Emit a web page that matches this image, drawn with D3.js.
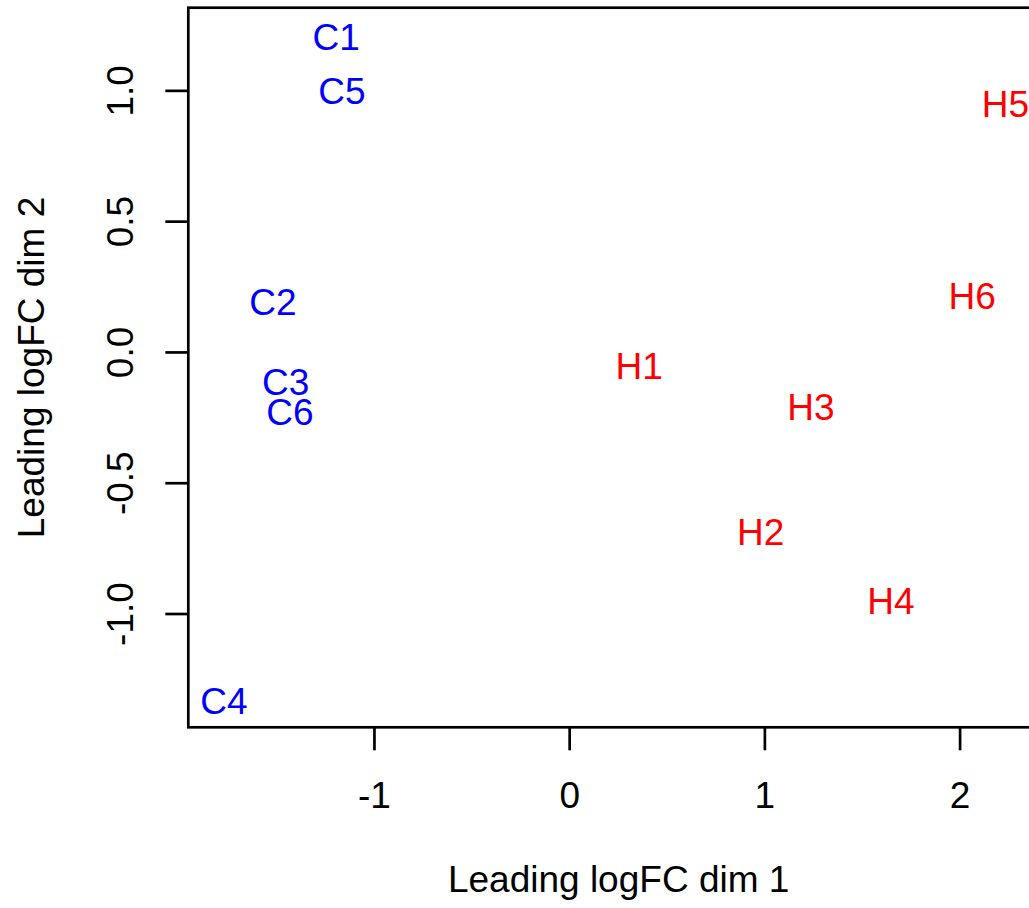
<!DOCTYPE html>
<html>
<head>
<meta charset="utf-8">
<script src="https://cdn.jsdelivr.net/npm/d3@7"></script>
<style>
  html, body { margin: 0; padding: 0; background: #ffffff; }
  svg { display: block; }
  text { font-family: "Liberation Sans", Arial, Helvetica, sans-serif; }
</style>
</head>
<body>
<svg id="chart" width="1029" height="908"></svg>
<script>
// MDS sample labels and their coordinates
const samples = ["C1", "C2", "C3", "C4", "C5", "C6", "H1", "H2", "H3", "H4", "H5", "H6"];
const dim1 = [-1.193, -1.518, -1.452, -1.768, -1.164, -1.430, 0.359, 0.981, 1.238, 1.648, 2.235, 2.065];
const dim2 = [1.206, 0.193, -0.115, -1.334, 1.000, -0.227, -0.052, -0.686, -0.211, -0.953, 0.949, 0.216];
const groupColor = ["blue", "blue", "blue", "blue", "blue", "blue", "red", "red", "red", "red", "red", "red"];

const xTicks = [-1, 0, 1, 2];
const yTicks = [-1.0, -0.5, 0.0, 0.5, 1.0];
const xLabel = "Leading logFC dim 1";
const yLabel = "Leading logFC dim 2";

const svg = d3.select("#chart");
const fontSize = 37;
const lw = 2.7;

const plot = { left: 188.3, top: 7.7, right: 1057, bottom: 727.3 };

const x = d3.scaleLinear().domain([-1.951, 2.499]).range([plot.left, plot.right]);
const y = d3.scaleLinear().domain([-1.435, 1.316]).range([plot.bottom, plot.top]);

// bottom axis
const gx = svg.append("g")
  .attr("transform", `translate(0,${plot.bottom})`)
  .call(d3.axisBottom(x).tickValues(xTicks).tickSize(23).tickFormat(d => String(d)));
gx.select(".domain").remove();
gx.selectAll(".tick line").attr("stroke", "#000").attr("stroke-width", lw);
gx.selectAll(".tick text")
  .attr("y", 80.7).attr("dy", 0)
  .attr("fill", "#000")
  .style("font-size", fontSize + "px")
  .style("font-family", "'Liberation Sans', Arial, Helvetica, sans-serif");

// left axis with rotated labels
const gy = svg.append("g")
  .attr("transform", `translate(${plot.left},0)`)
  .call(d3.axisLeft(y).tickValues(yTicks).tickSize(23).tickFormat(d => d.toFixed(1)));
gy.select(".domain").remove();
gy.selectAll(".tick line").attr("stroke", "#000").attr("stroke-width", lw);
gy.selectAll(".tick text")
  .attr("x", 0).attr("y", -(plot.left - 133)).attr("dy", 0)
  .attr("transform", "rotate(-90)")
  .attr("text-anchor", "middle")
  .attr("fill", "#000")
  .style("font-size", fontSize + "px")
  .style("font-family", "'Liberation Sans', Arial, Helvetica, sans-serif");

// plot frame
svg.append("rect")
  .attr("x", plot.left).attr("y", plot.top)
  .attr("width", plot.right - plot.left).attr("height", plot.bottom - plot.top)
  .attr("fill", "none").attr("stroke", "#000").attr("stroke-width", lw);

// sample labels centred on their coordinates
svg.append("g").selectAll("text")
  .data(samples.map((s, i) => ({ s, a: dim1[i], b: dim2[i], c: groupColor[i] })))
  .join("text")
  .attr("x", d => x(d.a))
  .attr("y", d => y(d.b))
  .attr("dy", "0.358em")
  .attr("text-anchor", "middle")
  .attr("fill", d => d.c)
  .style("font-size", fontSize + "px")
  .text(d => d.s);

// axis titles
svg.append("text")
  .attr("x", (plot.left + plot.right) / 2 - 4)
  .attr("y", 891.7)
  .attr("text-anchor", "middle")
  .style("font-size", fontSize + "px")
  .text(xLabel);

svg.append("text")
  .attr("transform", `translate(43.5,${(plot.top + plot.bottom) / 2}) rotate(-90)`)
  .attr("text-anchor", "middle")
  .style("font-size", fontSize + "px")
  .text(yLabel);
</script>
</body>
</html>
